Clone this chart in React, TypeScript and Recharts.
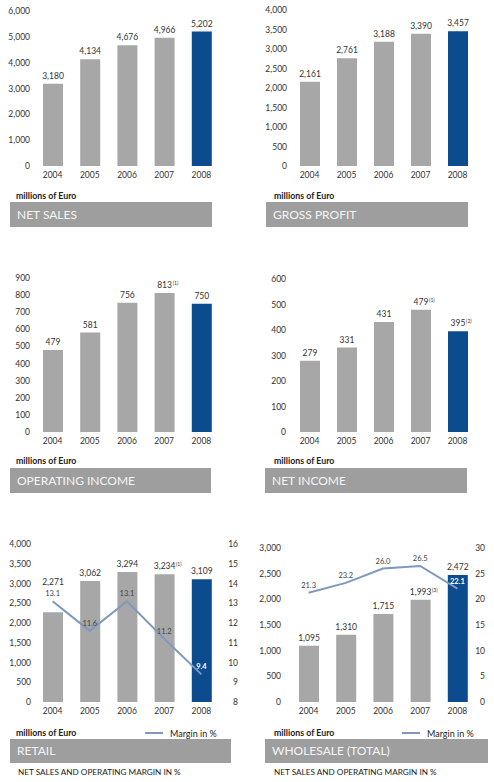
import React from 'react';
import { ComposedChart, Bar, Line, XAxis, YAxis, Cell, LabelList } from 'recharts';

const years = ['2004', '2005', '2006', '2007', '2008'];

const netSales = [3180, 4134, 4676, 4966, 5202];
const grossProfit = [2161, 2761, 3188, 3390, 3457];
const operatingIncome = [479, 581, 756, 813, 750];
const netIncome = [279, 331, 431, 479, 395];
const retailSales = [2271, 3062, 3294, 3234, 3109];
const retailMargin = [13.1, 11.6, 13.1, 11.2, 9.4];
const wholesaleSales = [1095, 1310, 1715, 1993, 2472];
const wholesaleMargin = [21.3, 23.2, 26.0, 26.5, 22.1];

// footnote markers shown next to some values
const operatingNotes = ['', '', '', '1', ''];
const netIncomeNotes = ['', '', '', '1', '2'];
const retailNotes = ['', '', '', '1', ''];
const wholesaleNotes = ['', '', '', '3', ''];

const netSalesTicks = [0, 1000, 2000, 3000, 4000, 5000, 6000];
const grossProfitTicks = [0, 500, 1000, 1500, 2000, 2500, 3000, 3500, 4000];
const operatingTicks = [0, 100, 200, 300, 400, 500, 600, 700, 800, 900];
const netIncomeTicks = [0, 100, 200, 300, 400, 500, 600];
const retailTicks = [0, 500, 1000, 1500, 2000, 2500, 3000, 3500, 4000];
const retailMarginTicks = [8, 9, 10, 11, 12, 13, 14, 15, 16];
const wholesaleTicks = [0, 500, 1000, 1500, 2000, 2500, 3000];
const wholesaleMarginTicks = [0, 5, 10, 15, 20, 25, 30];

const FONT = 'Lato, "Open Sans", sans-serif';
const GREY = '#a7a7a7';
const BLUE = '#0c4b8e';
const LINE = '#7f98bd';
const TEXT = '#333333';
const BAND = '#9e9e9e';

const fmt = (n: number) => n.toLocaleString('en-US');

interface PanelProps {
  left: number;
  plotTop: number;
  plotBottom: number;
  plotLeft: number;
  plotRight: number;
  values: number[];
  ticks: number[];
  tickGap: number;
  notes?: string[];
  margin?: number[];
  marginTicks?: number[];
  raiseFirst?: number;
}

const Panel: React.FC<PanelProps> = ({
  left, plotTop, plotBottom, plotLeft, plotRight, values, ticks, tickGap,
  notes, margin, marginTicks, raiseFirst = 0,
}) => {
  const rows = years.map((year, i) => ({
    year,
    value: values[i],
    margin: margin ? margin[i] : undefined,
  }));
  const top = plotTop - 10;
  const height = plotBottom + 22 - top;
  const rightSpace = left + 247 - plotRight;

  const barLabel = (p: any) => {
    const { x, y, width, value, index } = p;
    const cx = x + width / 2;
    const ty = y - 5 - (index === 0 ? raiseFirst : 0);
    const txt = fmt(value);
    const note = notes ? notes[index] : '';
    const half = (txt.replace(',', '').length * 4.4 + (txt.includes(',') ? 2 : 0)) / 2;
    return (
      <g key={`v-${index}`}>
        <text x={cx} y={ty} textAnchor="middle" fontSize={8.5} fill={TEXT} fontFamily={FONT}>{txt}</text>
        {note && (
          <text x={cx + half + 1.5} y={ty - 3} fontSize={5} fill={TEXT} fontFamily={FONT}>({note})</text>
        )}
      </g>
    );
  };

  const lineLabel = (p: any) => {
    const { x, y, value, index } = p;
    const last = index === years.length - 1;
    return (
      <text key={`m-${index}`} x={x} y={y - 5} textAnchor="middle" fontSize={7.5}
        fontWeight={last ? 700 : 400} fill={last ? '#ffffff' : '#444444'} fontFamily={FONT}>
        {Number(value).toFixed(1)}
      </text>
    );
  };

  const tickStyle = { fontSize: 8.5, fill: TEXT, fontFamily: FONT };

  return (
    <div style={{ position: 'absolute', left, top }}>
      <ComposedChart
        width={247}
        height={height}
        data={rows}
        margin={{ top: 10, bottom: 2, left: 0, right: margin ? 0 : rightSpace }}
      >
        <XAxis dataKey="year" height={20} axisLine={false} tickLine={false} tickSize={0}
          tickMargin={6} interval={0} tick={tickStyle} />
        <YAxis yAxisId="left" width={plotLeft - left} domain={[ticks[0], ticks[ticks.length - 1]]}
          ticks={ticks} interval={0} tickFormatter={fmt} axisLine={false} tickLine={false}
          tickSize={0} tickMargin={tickGap} tick={tickStyle} />
        {margin && marginTicks && (
          <YAxis yAxisId="right" orientation="right" width={rightSpace}
            domain={[marginTicks[0], marginTicks[marginTicks.length - 1]]} ticks={marginTicks}
            interval={0} axisLine={false} tickLine={false} tickSize={0} tickMargin={rightSpace - 9}
            tick={{ ...tickStyle, textAnchor: 'end' }} />
        )}
        <Bar yAxisId="left" dataKey="value" barSize={20} isAnimationActive={false}>
          {rows.map((r, i) => (
            <Cell key={r.year} fill={i === rows.length - 1 ? BLUE : GREY} />
          ))}
          <LabelList dataKey="value" content={barLabel} />
        </Bar>
        {margin && (
          <Line yAxisId="right" dataKey="margin" stroke={LINE} strokeWidth={2} dot={false}
            activeDot={false} isAnimationActive={false}>
            <LabelList dataKey="margin" content={lineLabel} />
          </Line>
        )}
      </ComposedChart>
    </div>
  );
};

const Title: React.FC<{ x: number; y: number; w: number; h?: number; text: string }> = ({ x, y, w, h = 25, text }) => (
  <div style={{
    position: 'absolute', left: x, top: y, width: w, height: h, background: BAND,
    color: '#f5f5f5', fontSize: 12, lineHeight: `${h}px`, paddingLeft: 7, boxSizing: 'border-box',
  }}>{text}</div>
);

const Unit: React.FC<{ x: number; y: number }> = ({ x, y }) => (
  <div style={{ position: 'absolute', left: x, top: y - 5, fontSize: 8.8, lineHeight: '10px', fontWeight: 700, color: '#222' }}>
    millions of Euro
  </div>
);

const MarginKey: React.FC<{ x: number; y: number }> = ({ x, y }) => (
  <div style={{ position: 'absolute', left: x, top: y - 5, height: 10, display: 'flex', alignItems: 'center', fontSize: 9, color: '#222' }}>
    <span style={{ display: 'inline-block', width: 18, height: 2, background: LINE, marginRight: 7 }} />
    Margin in %
  </div>
);

const Sub: React.FC<{ x: number; y: number }> = ({ x, y }) => (
  <div style={{ position: 'absolute', left: x, top: y - 5, fontSize: 8.2, lineHeight: '10px', color: '#222' }}>
    NET SALES AND OPERATING MARGIN IN %
  </div>
);

export default function App() {
  return (
    <div style={{ position: 'absolute', left: 0, top: 0, width: 494, height: 782, background: '#fff', fontFamily: FONT, overflow: 'hidden' }}>
      <Panel left={0} plotTop={11} plotBottom={166} plotLeft={34} plotRight={220}
        values={netSales} ticks={netSalesTicks} tickGap={4} />
      <Unit x={16} y={196} />
      <Title x={10} y={202} w={202} text="NET SALES" />

      <Panel left={247} plotTop={10} plotBottom={166} plotLeft={291} plotRight={476}
        values={grossProfit} ticks={grossProfitTicks} tickGap={4} />
      <Unit x={274} y={196} />
      <Title x={266} y={202} w={202} text="GROSS PROFIT" />

      <Panel left={0} plotTop={278} plotBottom={432} plotLeft={34} plotRight={220}
        values={operatingIncome} ticks={operatingTicks} tickGap={4} notes={operatingNotes} />
      <Unit x={16} y={461} />
      <Title x={10} y={468} w={201} text="OPERATING INCOME" />

      <Panel left={247} plotTop={279} plotBottom={432} plotLeft={291} plotRight={476}
        values={netIncome} ticks={netIncomeTicks} tickGap={5} notes={netIncomeNotes} />
      <Unit x={274} y={461} />
      <Title x={265} y={468} w={202} text="NET INCOME" />

      <Panel left={0} plotTop={544} plotBottom={702} plotLeft={34} plotRight={220}
        values={retailSales} ticks={retailTicks} tickGap={3} notes={retailNotes}
        margin={retailMargin} marginTicks={retailMarginTicks} raiseFirst={22} />
      <Unit x={16} y={733} />
      <MarginKey x={145} y={733} />
      <Title x={10} y={739} w={221} h={24} text="RETAIL" />
      <Sub x={18} y={772} />

      <Panel left={247} plotTop={548} plotBottom={702} plotLeft={290} plotRight={476}
        values={wholesaleSales} ticks={wholesaleTicks} tickGap={9} notes={wholesaleNotes}
        margin={wholesaleMargin} marginTicks={wholesaleMarginTicks} />
      <Unit x={274} y={733} />
      <MarginKey x={402} y={733} />
      <Title x={265} y={739} w={223} h={24} text="WHOLESALE (TOTAL)" />
      <Sub x={274} y={772} />
    </div>
  );
}
